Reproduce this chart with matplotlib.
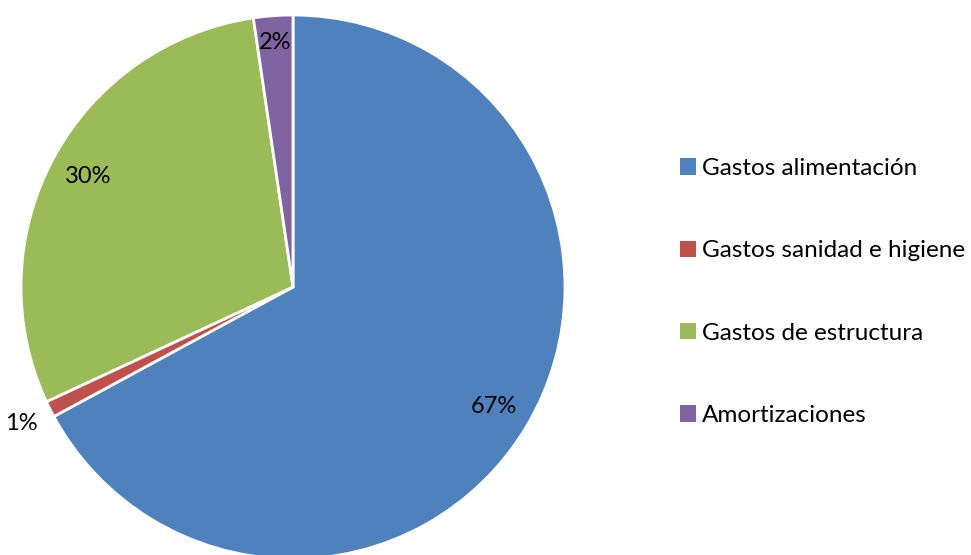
import numpy as np
import matplotlib.pyplot as plt

# Cost share per category (percent)
categories = ['Gastos alimentación', 'Gastos sanidad e higiene', 'Gastos de estructura', 'Amortizaciones']
shares = [67.1, 0.97, 29.6, 2.33]
colors = ['#4F81BD', '#C0504D', '#9BBB59', '#8064A2']
label_radius = [0.86, 1.12, 0.857, 0.90]

plt.rcParams['font.family'] = ['Lato', 'DejaVu Sans']

W, H = 971, 555
fig = plt.figure(figsize=(W / 100, H / 100), dpi=100)

# pie axes: center (293, 287) px, radius 272 px
cx, cy, r = 293, 287, 272
ax = fig.add_axes([(cx - r) / W, (H - cy - r) / H, 2 * r / W, 2 * r / H])

wedges, _ = ax.pie(shares, colors=colors, startangle=90, counterclock=False,
                   wedgeprops=dict(edgecolor='white', linewidth=2))
ax.set_xlim(-1, 1)
ax.set_ylim(-1, 1)
ax.set_aspect('auto')
ax.axis('off')

total = sum(shares)
for w, v, rad in zip(wedges, shares, label_radius):
    mid = np.deg2rad((w.theta1 + w.theta2) / 2)
    ax.text(rad * np.cos(mid), rad * np.sin(mid), f'{v / total * 100:.0f}%',
            ha='center', va='center', fontsize=17, color='black')

fig.legend(wedges, categories, loc='center left',
           bbox_to_anchor=(670 / W, 1 - 292 / H), frameon=False,
           fontsize=17.5, handlelength=0.66, handleheight=0.66,
           handletextpad=0.25, labelspacing=2.52, borderaxespad=0)
for h in fig.legends[0].legend_handles:
    h.set_edgecolor('none')

fig.savefig('out.png', dpi=100)
